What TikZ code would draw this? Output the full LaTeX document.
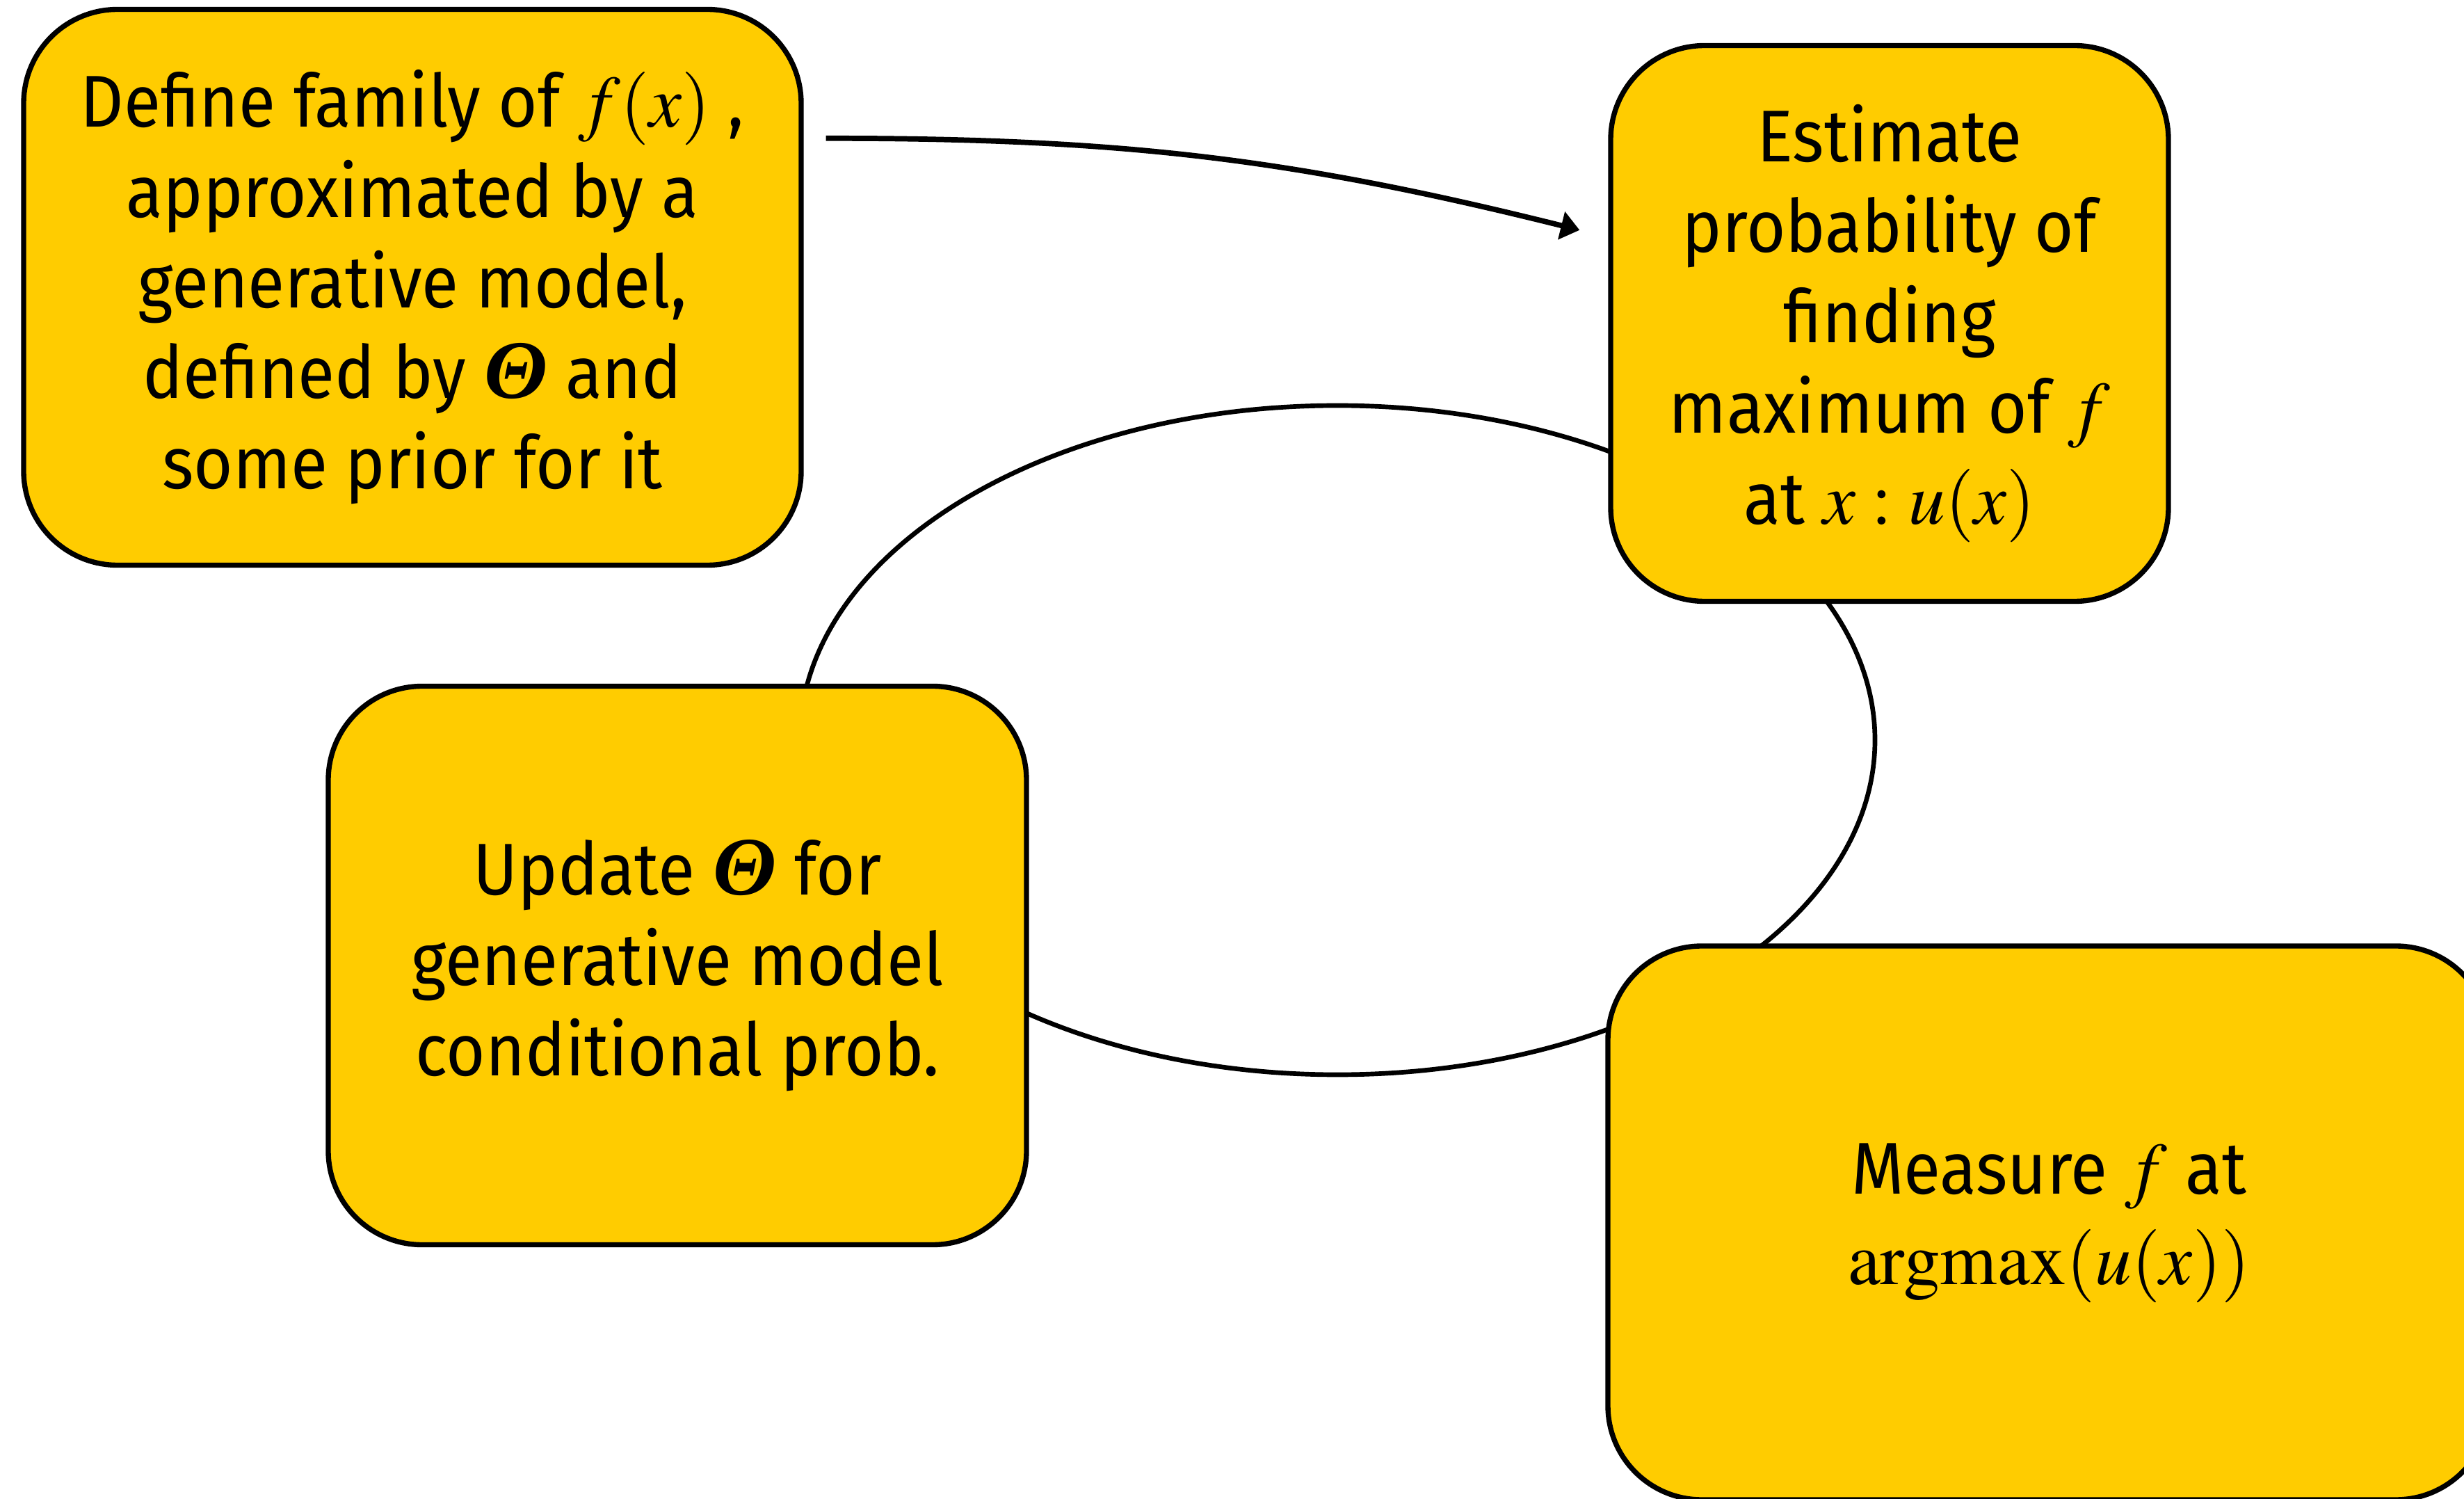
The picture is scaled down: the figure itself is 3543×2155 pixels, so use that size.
\documentclass[tikz,border=0pt]{standalone}
\usepackage{mathptmx}
\usepackage[no-math]{fontspec}
\setmainfont{Fira Sans}[FakeStretch=0.92]
\newfontfamily\thetafont{Liberation Serif}
\usetikzlibrary{positioning,arrows.meta,calc}
\definecolor{boxyellow}{HTML}{FFCC00}
\newcommand{\bTheta}{{\thetafont\fontsize{34}{37}\selectfont\bfseries\itshape Θ}}

\begin{document}
\begin{tikzpicture}[
    x=0.1mm, y=0.1mm,
    font=\fontsize{30}{37}\selectfont,
    stage/.style={draw=black, fill=boxyellow, line width=2.1pt, rounded corners=1.35cm, align=center, inner sep=0pt},
    d/.style={-{Triangle[length=0.27cm, width=0.4cm]}, line width=2.2pt},
    loopline/.style={line width=1.9pt},
]
  \useasboundingbox (0,0) rectangle (3543,-2155);
  % the cycle behind the boxes
  \draw[loopline] (1923,-1064) ellipse [x radius=773, y radius=481];
  \node[stage, minimum width=11.18cm, minimum height=7.99cm] (define) at (593,-413)
    {Define family of $f(x)$ ,\\ approximated by a\\ generative model,\\ defined by \bTheta{} and\\ some prior for it};
  \node[stage, minimum width=8.02cm, minimum height=7.99cm] (estimate) at (2717,-465)
    {Estimate\\ probability of\\ finding\\ maximum of $f$\\ at $x:u(x)$};
  \node[stage, minimum width=10.04cm, minimum height=8.03cm] (update) at (974,-1388)
    {Update \bTheta{}\ for\\ generative model\\ conditional prob.};
  \node[stage, minimum width=12.68cm, minimum height=7.96cm] (measure) at (2946,-1758)
    {Measure $f$ at\\ $\mathrm{argmax}(u(x))$};
  \draw[d] ([shift={(32,-189)}]define.north east) to[out=0, in=166] ([shift={(-41,-269)}]estimate.north west);
\end{tikzpicture}
\end{document}
